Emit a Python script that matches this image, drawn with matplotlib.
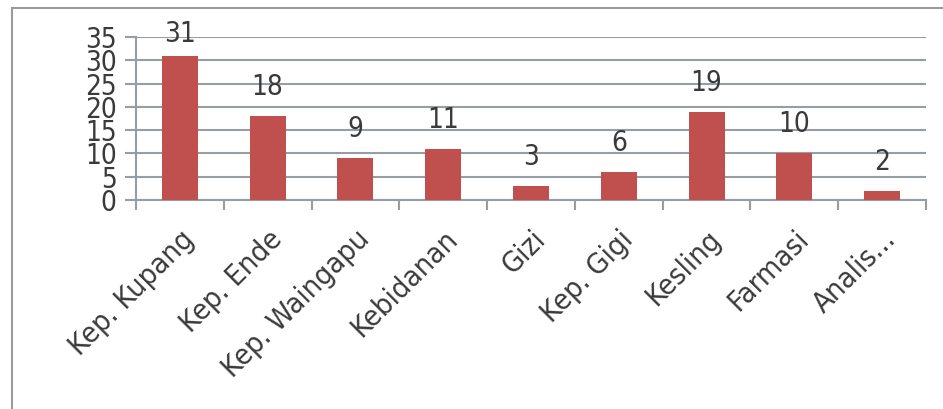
import matplotlib
matplotlib.use('Agg')
import matplotlib.pyplot as plt
from matplotlib.patches import Rectangle
import numpy as np

# data
categories = ['Kep. Kupang', 'Kep. Ende', 'Kep. Waingapu', 'Kebidanan', 'Gizi',
              'Kep. Gigi', 'Kesling', 'Farmasi', 'Analis...']
values = [31, 18, 9, 11, 3, 6, 19, 10, 2]
y_ticks = [0, 5, 10, 15, 20, 25, 30, 35]

bar_color = '#c0504d'
grid_color = '#979ea3'
text_color = '#3a3a3a'

plt.rcParams['font.family'] = ['DejaVu Sans']
plt.rcParams['font.stretch'] = 'condensed'

fig = plt.figure(figsize=(9.43, 4.09), dpi=100)
fig.patch.set_facecolor('white')

# outer chart border (cut off at right and bottom)
fig.patches.append(Rectangle((12 / 943, -0.1), 1.2, (409 - 8.5) / 409 + 0.1,
                             transform=fig.transFigure, fill=False,
                             edgecolor='#9a9a9a', linewidth=1.5, zorder=0))

ax = fig.add_axes([136 / 943, 209 / 409, 790 / 943, 163 / 409])
x = np.arange(len(categories))
ax.bar(x, values, width=0.41, color=bar_color, zorder=3)

ax.set_xlim(-0.5, len(categories) - 0.5)
ax.set_ylim(0, 35)

# value labels above the bars, kept inside the plot top
for xi, v in zip(x, values):
    ax.text(xi, min(v + 4.5, 33.9), str(v), ha='center', va='baseline',
            fontsize=20, color=text_color, zorder=4)

ax.set_yticks(y_ticks)
ax.set_yticklabels([str(t) for t in y_ticks], fontsize=20, color=text_color)
ax.tick_params(axis='y', length=8, width=1.5, color=grid_color, pad=6)
ax.yaxis.grid(True, color=grid_color, linewidth=1.5, zorder=1)

ax.set_xticks(x)
ax.set_xticklabels(categories, fontsize=21, color=text_color, rotation=45,
                   ha='right', va='top', rotation_mode='anchor')
ax.tick_params(axis='x', which='major', length=0, pad=18)
ax.set_xticks(np.arange(-0.5, len(categories), 1.0), minor=True)
ax.tick_params(axis='x', which='minor', length=7.5, width=1.5, color=grid_color)

for side in ['top', 'right']:
    ax.spines[side].set_visible(False)
for side in ['left', 'bottom']:
    ax.spines[side].set_color(grid_color)
    ax.spines[side].set_linewidth(1.5)
ax.set_axisbelow(True)

fig.savefig('out.png', dpi=100)
